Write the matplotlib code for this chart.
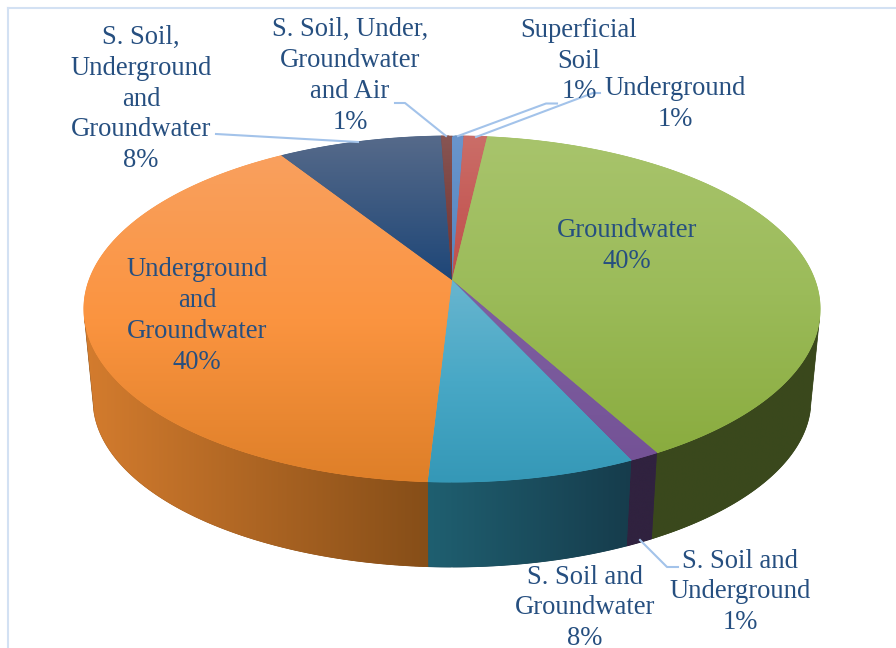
"""
3D pie chart of contaminated media shares.
"""

import numpy as np
import matplotlib.pyplot as plt
from matplotlib.collections import LineCollection
from matplotlib.colors import LinearSegmentedColormap
from matplotlib.patches import Polygon

# slice shares, clockwise from 12 o'clock
shares = [0.6, 1.2, 40.2, 1.125, 7.765, 40.11, 8.44, 0.56]

labels = ["Superficial\nSoil\n1%", "Underground\n1%", "Groundwater\n40%",
          "S. Soil and\nUnderground\n1%", "S. Soil and\nGroundwater\n8%",
          "Underground\nand\nGroundwater\n40%",
          "S. Soil,\nUnderground\nand\nGroundwater\n8%",
          "S. Soil, Under,\nGroundwater\nand Air\n1%"]

# top face gradient per slice (top, middle, bottom)
top_colors = [
    ["#6A95CC", "#5F8DC6", "#5585BF"],
    ["#CB6E68", "#C55C58", "#BF504C"],
    ["#A8C46C", "#9BBB59", "#8AAC3F"],
    ["#7F5FA2", "#7A5A9C", "#745296"],
    ["#68B5CF", "#48A8C6", "#3598B7"],
    ["#F9A05E", "#FB9440", "#DE7F28"],
    ["#566A8A", "#3A5880", "#1E4678"],
    ["#875553", "#7C4240", "#72302E"],
]

# side wall gradient per slice (left, right)
side_colors = [
    ["#3A5A80", "#3A5A80"],
    ["#7A3230", "#7A3230"],
    ["#3A491C", "#3A481D"],
    ["#30223F", "#30223F"],
    ["#1F5F70", "#163C4C"],
    ["#D47C2E", "#864E18"],
    ["#1A3050", "#1A3050"],
    ["#4A1E1D", "#4A1E1D"],
]

text_color = "#264F80"
leader_color = "#A3C3EA"
frame_color = "#D3E1F3"

plt.rcParams['font.family'] = ['Liberation Serif', 'DejaVu Serif']


def project(theta):
    """Tilted disc to image pixels, theta clockwise from the top."""
    u, v = np.sin(theta), np.cos(theta)
    den = 1 + 0.1677 * v
    return 452 + 362.8 * u / den, 280 - 168.1 * v / den


def lower(x, y):
    """Matching point on the bottom rim."""
    return 452 + (x - 452) * 0.975, 400 + (y - 309) * 0.965


def wall_visible(theta):
    """True where the wall faces the viewer, the rim runs against the drop."""
    x, y = project(theta)
    xb, yb = lower(x, y)
    dx, dy = np.gradient(x), np.gradient(y)
    return dx * (yb - y) - dy * (xb - x) < 0


def gradient_fill(ax, pts, colors, zorder, vertical=True):
    cmap = LinearSegmentedColormap.from_list("g", colors)
    mid = colors[len(colors) // 2]
    ax.add_patch(Polygon(pts, closed=True, facecolor=mid, edgecolor=mid, lw=0.5, zorder=zorder - 0.1))
    patch = Polygon(pts, closed=True, facecolor="none", edgecolor="none", zorder=zorder)
    ax.add_patch(patch)
    ramp = np.linspace(0, 1, 256)
    ramp = ramp[:, None] if vertical else ramp[None, :]
    extent = (pts[:, 0].min(), pts[:, 0].max(), pts[:, 1].max(), pts[:, 1].min())
    im = ax.imshow(ramp, cmap=cmap, extent=extent, origin="upper", aspect="auto",
                   interpolation="bilinear", vmin=0, vmax=1, zorder=zorder)
    im.set_clip_path(patch)
    return cmap, extent


def gradient_rim(ax, x, y, cmap, extent, zorder, vertical=True):
    """Thin rim in the fill's own colours, smooths the clipped image edge."""
    pts = np.column_stack([x, y])
    segs = np.stack([pts[:-1], pts[1:]], axis=1)
    if vertical:
        pos = (y[:-1] - extent[3]) / max(extent[2] - extent[3], 1)
    else:
        pos = (x[:-1] - extent[0]) / max(extent[1] - extent[0], 1)
    ax.add_collection(LineCollection(segs, colors=cmap(pos), lw=0.7, zorder=zorder))


def main():
    fig = plt.figure(figsize=(8.96, 6.48), dpi=100)
    ax = fig.add_axes([0, 0, 1, 1])

    edges = np.cumsum([0] + shares) / sum(shares) * 2 * np.pi

    # side walls, only the part that faces the viewer
    for i in range(len(shares)):
        t = np.linspace(edges[i], edges[i + 1], 800)
        t = t[wall_visible(t)]
        if len(t) < 2:
            continue
        x, y = project(t)
        xb, yb = lower(x, y)
        pts = np.column_stack([np.r_[x, xb[::-1]], np.r_[y, yb[::-1]]])
        cmap, extent = gradient_fill(ax, pts, side_colors[i], 1.2, vertical=False)
        gradient_rim(ax, xb, yb, cmap, extent, 1.4, vertical=False)

    # top face
    for i in range(len(shares)):
        t = np.linspace(edges[i], edges[i + 1], 400)
        x, y = project(t)
        pts = np.column_stack([np.r_[452, x], np.r_[280, y]])
        cmap, extent = gradient_fill(ax, pts, top_colors[i], 2)
        gradient_rim(ax, x, y, cmap, extent, 2.5)

    # frame, open at the bottom
    ax.plot([7.5, 7.5], [648, 7.5], color=frame_color, lw=1.5, zorder=1)
    ax.plot([7.5, 896], [7.5, 7.5], color=frame_color, lw=1.5, zorder=1)

    # leader lines
    leaders = [
        [(216, 134), (358, 142)],
        [(395, 103), (405, 103), (446, 136)],
        [(557, 103.5), (546, 103.5), (458, 136)],
        [(600, 93), (593, 93), (476, 137)],
        [(640, 540), (667, 567), (678, 567)],
    ]
    for line in leaders:
        xs, ys = zip(*line)
        ax.plot(xs, ys, color=leader_color, lw=1.5, zorder=4)

    # labels
    label_pos = [(579, 61), (675, 104), (627, 246), (740, 592),
                 (585, 608), (197, 316), (141, 99), (350, 76)]
    for text, (lx, ly) in zip(labels, label_pos):
        ax.text(lx, ly, text, ha="center", va="center", fontsize=19.2,
                color=text_color, linespacing=1.31, zorder=5)

    ax.set_xlim(0, 896)
    ax.set_ylim(648, 0)
    ax.axis("off")
    fig.savefig("out.png", dpi=100)
    plt.close(fig)


if __name__ == "__main__":
    main()
